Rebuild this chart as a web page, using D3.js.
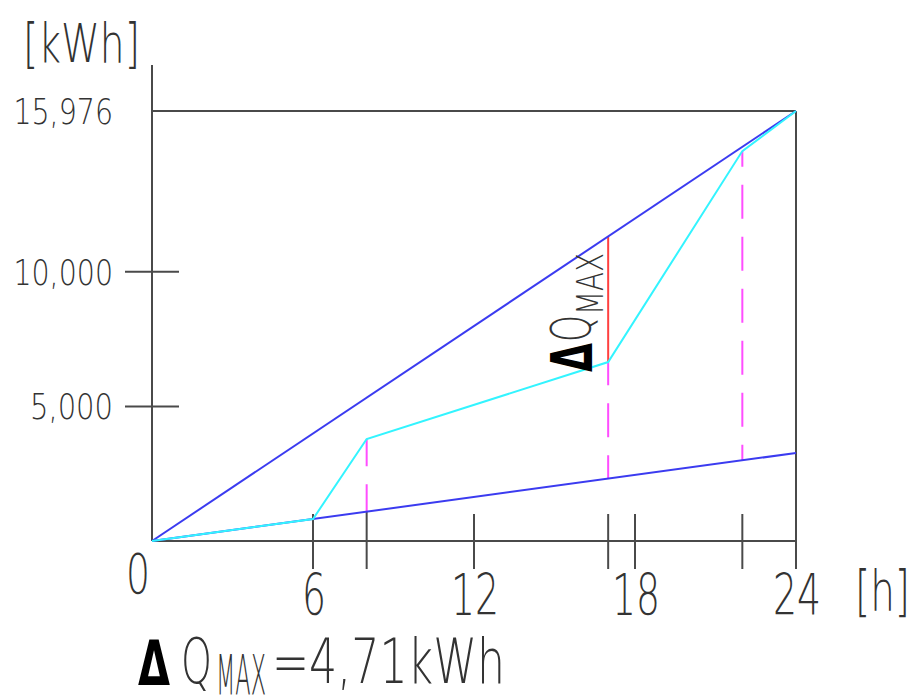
<!DOCTYPE html>
<html>
<head>
<meta charset="utf-8">
<script src="https://cdn.jsdelivr.net/npm/d3@7"></script>
<style>
  body { margin: 0; background: #fff; }
  svg text { font-family: "DejaVu Sans", sans-serif; font-weight: 200; fill: #333; }
</style>
</head>
<body>
<svg></svg>
<script>
const maxEnergy = 15976
const upperHours = [0, 24]
const upperEnergy = [0, 15976]
const lowerHours = [0, 24]
const lowerEnergy = [0, 3270]
const chargeHours = [0, 6, 8, 17, 22, 24]
const chargeEnergy = [0, 817, 3789, 6649, 14487, 15976]
const dropHours = [8, 17, 22]
const deltaHour = 17
const xTickValues = [6, 8, 12, 17, 18, 22, 24]
const xTickLabels = ['6', '', '12', '', '18', '', '24']
const yTickValues = [5000, 10000, 15976]
const yTickLabels = ['5,000', '10,000', '15,976']

let svgWidth = 917
let svgHeight = 697
let plotLeft = 152, plotRight = 796, plotTop = 111, plotBottom = 541

let svg = d3.select('svg')
  .attr('width', svgWidth)
  .attr('height', svgHeight)

let xScale = d3.scaleLinear().domain([0, 24]).range([plotLeft, plotRight])
let yScale = d3.scaleLinear().domain([0, maxEnergy]).range([plotBottom, plotTop])

let lowerAt = d3.scaleLinear().domain(lowerHours).range(lowerEnergy)
let chargeAt = d3.scaleLinear().domain(chargeHours).range(chargeEnergy)
let upperAt = d3.scaleLinear().domain(upperHours).range(upperEnergy)

let axisColor = '#4a4a4a'

/* helper: squeezed text to mimic the narrow CAD font */
function label(x, y, str, size, width, opts = {}) {
  let t = svg.append('text')
    .attr('x', x).attr('y', y)
    .attr('text-anchor', opts.anchor || 'start')
    .attr('textLength', width)
    .attr('lengthAdjust', 'spacingAndGlyphs')
    .style('font-size', size + 'px')
    .text(str)
  if (opts.bold) t.style('font-weight', 'bold').style('fill', '#000')
  if (opts.transform) t.attr('transform', opts.transform).attr('x', 0).attr('y', 0)
  return t
}

/* frame: y axis, x axis, top line */
svg.append('line')
  .attr('x1', xScale(0)).attr('x2', xScale(0))
  .attr('y1', yScale(maxEnergy) - 46).attr('y2', yScale(0))
  .attr('stroke', axisColor).attr('stroke-width', 2)
svg.append('line')
  .attr('x1', xScale(0)).attr('x2', xScale(24))
  .attr('y1', yScale(0)).attr('y2', yScale(0))
  .attr('stroke', axisColor).attr('stroke-width', 2)
svg.append('line')
  .attr('x1', xScale(0)).attr('x2', xScale(24))
  .attr('y1', yScale(maxEnergy)).attr('y2', yScale(maxEnergy))
  .attr('stroke', axisColor).attr('stroke-width', 2)

/* x ticks cross the axis */
svg.selectAll('.xtick')
  .data(xTickValues)
  .enter()
  .append('line')
    .classed('xtick', true)
    .attr('x1', d => xScale(d)).attr('x2', d => xScale(d))
    .attr('y1', d => d === 24 ? yScale(maxEnergy) : d === 8 ? yScale(lowerAt(d)) : yScale(0) - 27)
    .attr('y2', yScale(0) + 28)
    .attr('stroke', axisColor).attr('stroke-width', 2)

xTickValues.forEach((d, i) => {
  if (xTickLabels[i] === '') return
  label(xScale(d) + 1, yScale(0) + 74, xTickLabels[i], 57, xTickLabels[i].length * 24, { anchor: 'middle' })
})
label(xScale(0) - 14, yScale(0) + 52, '0', 56, 24, { anchor: 'middle' })
label(855, yScale(0) + 69, '[h]', 56, 55)

/* y ticks */
svg.selectAll('.ytick')
  .data(yTickValues.filter(d => d < maxEnergy))
  .enter()
  .append('line')
    .classed('ytick', true)
    .attr('x1', xScale(0) - 27).attr('x2', xScale(0) + 27)
    .attr('y1', d => yScale(d)).attr('y2', d => yScale(d))
    .attr('stroke', axisColor).attr('stroke-width', 2)

yTickValues.forEach((d, i) => {
  label(xScale(0) - 39, yScale(d) + 13, yTickLabels[i], 36, yTickLabels[i].length * 16.6, { anchor: 'end' })
})
label(23, 62, '[kWh]', 53, 117)

/* right border */
svg.append('line')
  .attr('x1', xScale(24)).attr('x2', xScale(24))
  .attr('y1', yScale(maxEnergy)).attr('y2', yScale(0) + 28)
  .attr('stroke', axisColor).attr('stroke-width', 2)

/* dashed drop lines: align the pattern so the end dashes are as long as possible */
let dashLen = 34, gapLen = 18, period = dashLen + gapLen
let mod = v => ((v % period) + period) % period
dropHours.forEach(h => {
  let y1 = yScale(chargeAt(h)), y2 = yScale(lowerAt(h))
  let half = (y2 - y1) / 2
  let candidates = [mod(dashLen / 2 - half), mod(dashLen + gapLen / 2 - half)]
  let offset = d3.greatest(candidates, p => p < dashLen ? dashLen - p : 0)
  svg.append('line')
    .attr('x1', xScale(h)).attr('x2', xScale(h))
    .attr('y1', y1).attr('y2', y2)
    .attr('stroke', '#ff4dff').attr('stroke-width', 2)
    .attr('stroke-dasharray', `${dashLen},${gapLen}`)
    .attr('stroke-dashoffset', offset)
})

/* delta Q max */
svg.append('line')
  .attr('x1', xScale(deltaHour)).attr('x2', xScale(deltaHour))
  .attr('y1', yScale(upperAt(deltaHour))).attr('y2', yScale(chargeAt(deltaHour)))
  .attr('stroke', '#ff4040').attr('stroke-width', 2)

let line = d3.line().x(d => xScale(d[0])).y(d => yScale(d[1]))

svg.append('path')
  .datum(upperHours.map((h, i) => [h, upperEnergy[i]]))
  .attr('d', line)
  .attr('fill', 'none').attr('stroke', '#3b3bf0').attr('stroke-width', 2)

svg.append('path')
  .datum(lowerHours.map((h, i) => [h, lowerEnergy[i]]))
  .attr('d', line)
  .attr('fill', 'none').attr('stroke', '#3b3bf0').attr('stroke-width', 2)

svg.append('path')
  .datum(chargeHours.map((h, i) => [h, chargeEnergy[i]]))
  .attr('d', line)
  .attr('fill', 'none').attr('stroke', '#33f4ff').attr('stroke-width', 2)

/* rotated label next to the red segment */
let lx = xScale(deltaHour)
label(0, 0, 'Δ', 57, 29, { bold: true, transform: `translate(${lx - 16}, 372) rotate(-90)` })
label(0, 0, 'Q', 55, 27, { transform: `translate(${lx - 18}, 342) rotate(-90)` })
label(0, 0, 'MAX', 37, 62, { transform: `translate(${lx - 5}, 315) rotate(-90)` })

/* formula */
label(138, 685, 'Δ', 62, 32, { bold: true })
label(181, 683, 'Q', 62, 31)
label(216, 694, 'MAX', 56, 50)
label(272, 683, '=4,71kWh', 62, 233)
</script>
</body>
</html>
